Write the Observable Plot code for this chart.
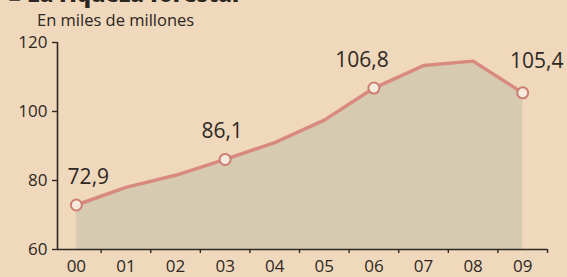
<!DOCTYPE html>
<html>
<head>
<meta charset="utf-8">
<script src="https://cdn.jsdelivr.net/npm/d3@7"></script>
<script src="https://cdn.jsdelivr.net/npm/@observablehq/plot@0.6"></script>
<style>
  html, body { margin: 0; padding: 0; background: #efd8bc; width: 567px; height: 277px; overflow: hidden; }
  #head { position: relative; height: 30px; font-family: "Open Sans", sans-serif; color: #2b2622; }
  #title { position: absolute; left: 0; top: 0; width: 567px; height: 8px; overflow: hidden; }
  #title span { position: absolute; left: 8px; top: -18px; font-size: 22px; font-weight: 800; line-height: 22px; white-space: nowrap; }
  #sub { position: absolute; left: 37px; top: 10px; font-size: 16.5px; line-height: 20px; white-space: nowrap; }
  svg { display: block; overflow: visible; }
</style>
</head>
<body>
<div id="head">
  <div id="title"><span>■ La riqueza forestal</span></div>
  <div id="sub">En miles de millones</div>
</div>
<div id="chart"></div>
<script>
const yearLabels = ["00", "01", "02", "03", "04", "05", "06", "07", "08", "09"];
const values = [72.9, 78.0, 81.5, 86.1, 91.0, 97.5, 106.8, 113.3, 114.6, 105.4];
const labeledYears = ["00", "03", "06", "09"];
const yTicks = [60, 80, 100, 120];

const rows = yearLabels.map((t, i) => ({ i, t, v: values[i] }));
const labeled = rows.filter(d => labeledYears.includes(d.t));
const fmt = v => v.toFixed(1).replace(".", ",");
const xStart = -0.38, xEnd = yearLabels.length - 0.5;
const boundaries = yearLabels.map((_, i) => i + 0.5);

const ink = "#2e2823";
const labelOffsets = { "00": [12, -28], "03": [-3, -28], "06": [-12, -28], "09": [14, -32] };

const chart = Plot.plot({
  width: 567,
  height: 247,
  marginLeft: 57,
  marginRight: 20,
  marginTop: 12,
  marginBottom: 28,
  style: { background: "transparent", fontFamily: "Open Sans, sans-serif", color: ink, overflow: "visible" },
  x: { type: "linear", domain: [xStart, xEnd], axis: null },
  y: { domain: [60, 120], axis: null },
  marks: [
    Plot.areaY(rows, { x: "i", y1: 60, y2: "v", fill: "#d6cbb0" }),
    Plot.lineY(rows, { x: "i", y: "v", stroke: "#d98a7f", strokeWidth: 3.5, strokeLinejoin: "round" }),
    Plot.dot(labeled, { x: "i", y: "v", r: 5.5, fill: "#f5eadc", stroke: "#cd7d72", strokeWidth: 2 }),
    ...labeled.map(d => Plot.text([d], {
      x: "i", y: "v", text: r => fmt(r.v),
      dx: labelOffsets[d.t][0], dy: labelOffsets[d.t][1],
      fontSize: 21, fill: ink
    })),
    Plot.ruleY([60], { x1: xStart, x2: xEnd, stroke: ink, strokeWidth: 1.6 }),
    Plot.ruleX([xStart], { y1: 60, y2: 120, stroke: ink, strokeWidth: 1.6 }),
    Plot.axisX({ ticks: boundaries, tickSize: 4, tickFormat: () => "", stroke: ink, strokeWidth: 1.4, label: null }),
    Plot.axisX({ ticks: rows.map(d => d.i), tickSize: 0, tickPadding: 10, tickFormat: i => yearLabels[i], fontSize: 17, fill: ink, label: null }),
    Plot.axisY({ ticks: yTicks, anchor: "left", tickSize: 5, tickPadding: 5, fontSize: 17, fill: ink, stroke: ink, strokeWidth: 1.4, label: null })
  ]
});
document.getElementById("chart").appendChild(chart);
</script>
</body>
</html>
